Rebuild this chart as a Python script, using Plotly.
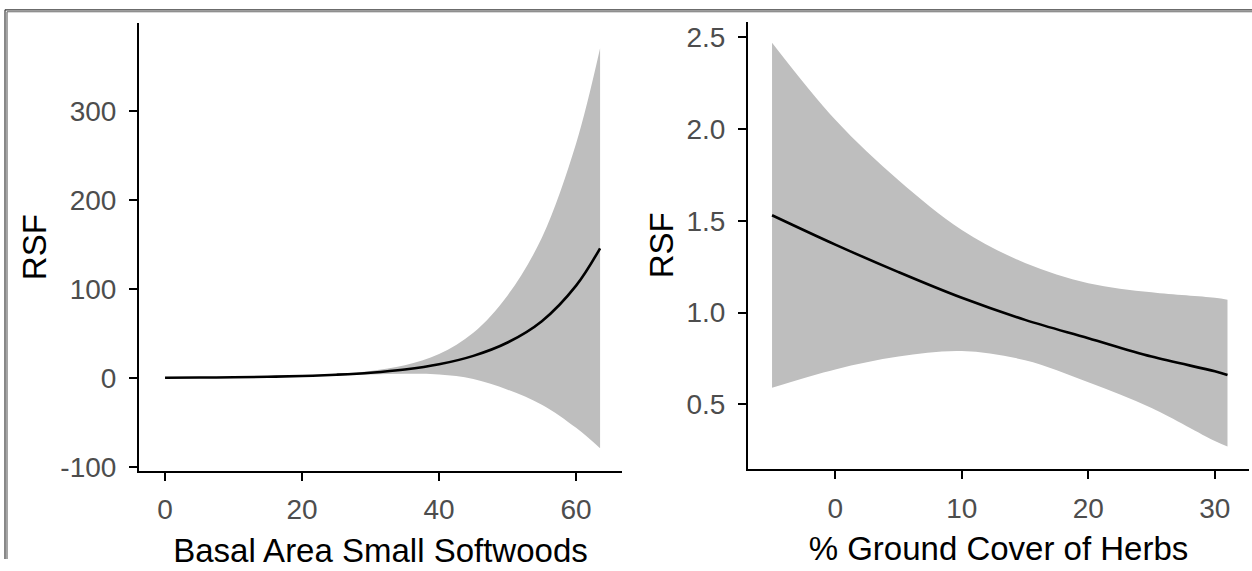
import plotly.graph_objects as go

# Left panel: basal area of small softwoods
basal_x = [0, 5, 10, 15, 20, 25, 30, 35, 40, 45, 50, 55, 60, 63.5]
basal_rsf = [0.4, 0.6, 0.9, 1.5, 2.3, 3.8, 6.0, 9.6, 15.5, 25, 40, 64, 104, 146]
basal_low = [0.4, 0.6, 0.9, 1.4, 1.8, 2.8, 4.0, 4.8, 4.0, -1, -13, -30, -56, -79]
basal_high = [0.4, 0.6, 0.9, 1.6, 2.8, 4.8, 8.0, 14.4, 27, 51, 93, 158, 264, 371]

# Right panel: percent ground cover of herbs
herb_x = [-5, 0, 5, 10, 15, 20, 25, 30, 31]
herb_rsf = [1.53, 1.37, 1.22, 1.08, 0.96, 0.86, 0.76, 0.68, 0.66]
herb_low = [0.59, 0.69, 0.76, 0.79, 0.74, 0.62, 0.48, 0.30, 0.27]
herb_high = [2.47, 2.05, 1.72, 1.45, 1.27, 1.16, 1.11, 1.08, 1.07]

left_ticks_x = [0, 20, 40, 60]
left_ticks_y = [-100, 0, 100, 200, 300]
left_labels_y = ["-100", "0", "100", "200", "300"]
right_ticks_x = [0, 10, 20, 30]
right_ticks_y = [0.5, 1.0, 1.5, 2.0, 2.5]
right_labels_y = ["0.5", "1.0", "1.5", "2.0", "2.5"]

W, H = 1252, 571
BAND = "#BEBEBE"
FONT = "Liberation Sans, Arial, sans-serif"


def px(x):
    return x / W


def py(y):
    return 1 - y / H


fig = go.Figure()


def add_panel(x, low, high, mid, xa, ya):
    fig.add_trace(go.Scatter(x=x, y=low, mode="lines", line=dict(width=0, color=BAND, shape="spline"),
                             xaxis=xa, yaxis=ya, hoverinfo="skip", showlegend=False))
    fig.add_trace(go.Scatter(x=x, y=high, mode="lines", line=dict(width=0, color=BAND, shape="spline"),
                             fill="tonexty", fillcolor=BAND, xaxis=xa, yaxis=ya,
                             hoverinfo="skip", showlegend=False))
    fig.add_trace(go.Scatter(x=x, y=mid, mode="lines", line=dict(width=2.6, color="black", shape="spline"),
                             xaxis=xa, yaxis=ya, showlegend=False))


add_panel(basal_x, basal_low, basal_high, basal_rsf, "x", "y")
add_panel(herb_x, herb_low, herb_high, herb_rsf, "x2", "y2")

axis_common = dict(
    showline=True, linecolor="black", linewidth=2, showgrid=False, zeroline=False,
    ticks="outside", ticklen=8, tickwidth=2, tickcolor="black",
    tickfont=dict(family=FONT, size=28, color="#4D4D4D"),
    title_font=dict(family=FONT, size=33, color="black"),
)

fig.update_layout(
    width=W, height=H,
    margin=dict(l=0, r=0, t=0, b=0),
    paper_bgcolor="white", plot_bgcolor="white",
    xaxis=dict(axis_common, domain=[px(139), px(622)], range=[-3.8, 66.7],
               tickvals=left_ticks_x, anchor="y", ticklabelstandoff=5,
               title=dict(text="Basal Area Small Softwoods", standoff=14)),
    yaxis=dict(axis_common, domain=[py(481), py(24)], range=[-104.4, 398.9],
               tickvals=left_ticks_y, ticktext=left_labels_y, anchor="x", ticklabelstandoff=7,
               title=dict(text="RSF", standoff=4)),
    xaxis2=dict(axis_common, domain=[px(748), px(1249)], range=[-6.9, 32.7],
                tickvals=right_ticks_x, anchor="y2", ticklabelstandoff=5,
                title=dict(text="% Ground Cover of Herbs", standoff=14)),
    yaxis2=dict(axis_common, domain=[py(479), py(22)], range=[0.148, 2.585],
                tickvals=right_ticks_y, ticktext=right_labels_y, anchor="x2", ticklabelstandoff=7,
                title=dict(text="RSF", standoff=3)),
)

# Double rule framing the top and left of the figure
for pos, col in [(10, "#3a3a3a"), (12, "#6a6a6a")]:
    fig.add_shape(type="line", xref="paper", yref="paper",
                  x0=px(pos - 5), x1=1, y0=py(pos), y1=py(pos),
                  line=dict(color=col, width=1.2))
for pos, col in [(5, "#3a3a3a"), (7, "#6a6a6a")]:
    fig.add_shape(type="line", xref="paper", yref="paper",
                  x0=px(pos), x1=px(pos), y0=py(pos + 5), y1=0,
                  line=dict(color=col, width=1.2))

fig.write_html("out.html")
